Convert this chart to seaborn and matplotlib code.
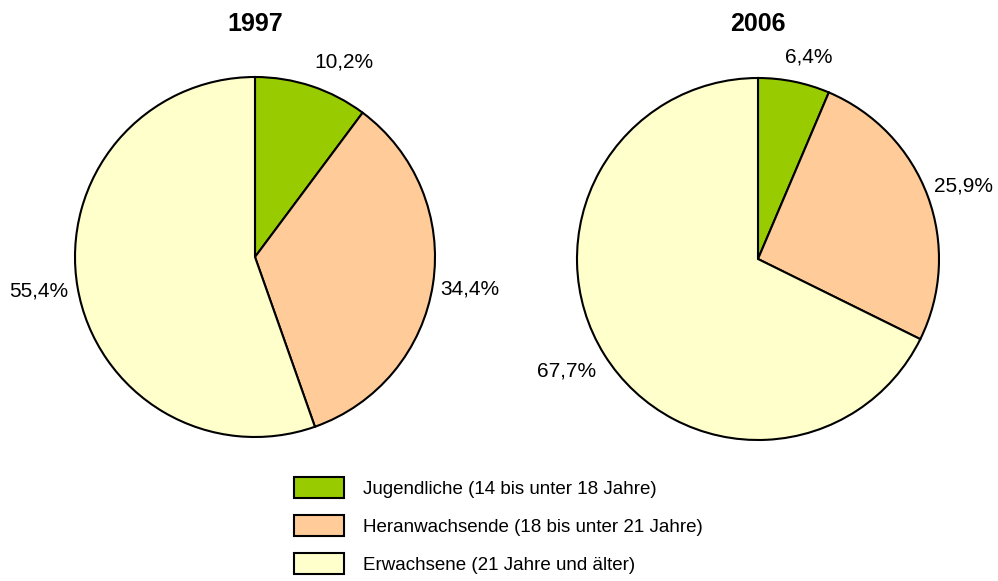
import matplotlib
matplotlib.use("Agg")
import matplotlib.pyplot as plt
from matplotlib.patches import Patch
import seaborn as sns
import numpy as np

sns.set_theme(style="white")
plt.rcParams["font.family"] = ["Liberation Sans", "DejaVu Sans"]
plt.rcParams["text.color"] = "black"

# Altersgruppen und Anteile (in %)
groups = ["Jugendliche (14 bis unter 18 Jahre)",
          "Heranwachsende (18 bis unter 21 Jahre)",
          "Erwachsene (21 Jahre und älter)"]
years = ["1997", "2006"]
shares_1997 = [10.2, 34.4, 55.4]
shares_2006 = [6.4, 25.9, 67.7]
colors = ["#99CC00", "#FFCC99", "#FFFFCC"]

W, H = 998, 581
fig = plt.figure(figsize=(W / 100, H / 100), dpi=100)

# pie centres and radii in pixels
centres = [(255, 257), (758, 259)]
radii = [180, 181]
# small pixel nudges for the value labels (x right, y up)
nudges = [[(21, -10), (1, 0), (-3, 2)],
          [(7, -11), (2, -2), (-7, 3)]]


def fmt(v):
    return f"{v:.1f}%".replace(".", ",")


for (cx, cy), r, year, shares, nud in zip(centres, radii, years,
                                          [shares_1997, shares_2006], nudges):
    ax = fig.add_axes([(cx - r) / W, (H - cy - r) / H, 2 * r / W, 2 * r / H])
    ax.pie(shares, colors=colors, startangle=90, counterclock=False,
           wedgeprops=dict(edgecolor="black", linewidth=1.5), radius=1.0)
    # value labels outside the slices
    start = 90.0
    for v, (dx, dy) in zip(shares, nud):
        mid = np.deg2rad(start - v * 3.6 / 2)
        start -= v * 3.6
        ax.text(1.2 * np.cos(mid) + dx / r, 1.2 * np.sin(mid) + dy / r, fmt(v),
                ha="center", va="center", fontsize=15, color="black")
    ax.set_xlim(-1, 1)
    ax.set_ylim(-1, 1)
    ax.set_aspect("equal")
    ax.axis("off")
    fig.text(cx / W, 1 - 24 / H, year, ha="center", va="center",
             fontsize=18, fontweight="bold", color="black")

handles = [Patch(facecolor=c, edgecolor="black", linewidth=1.5) for c in colors]
fig.legend(handles, groups, loc="upper left",
           bbox_to_anchor=(294 / W, 1 - 477 / H), frameon=False, fontsize=13.5,
           handlelength=2.67, handleheight=1.35, handletextpad=1.0,
           labelspacing=0.9, borderpad=0, borderaxespad=0, labelcolor="black")

fig.savefig("out.png", dpi=100, facecolor="white")
